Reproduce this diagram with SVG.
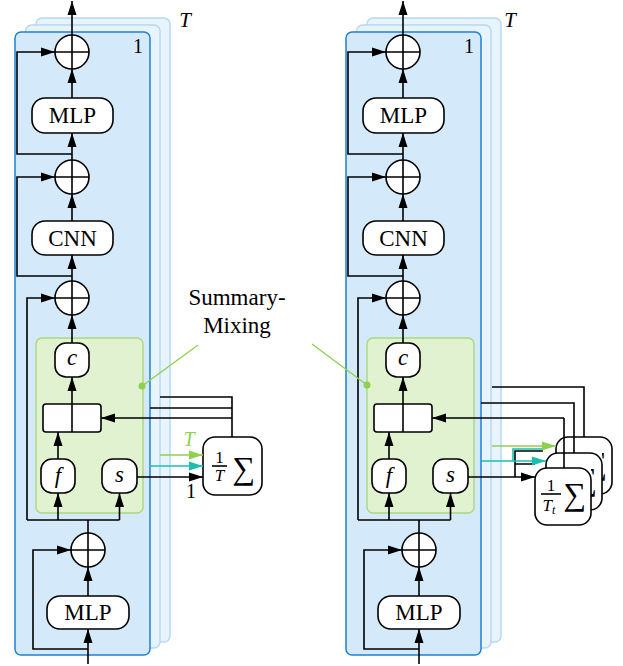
<svg xmlns="http://www.w3.org/2000/svg" width="623" height="666" viewBox="0 0 623 666" font-family="Liberation Serif, Times New Roman, serif">
<style>
.back{fill:#e7f3fd;stroke:#b7d8f1;stroke-width:1.4}
.front{fill:#d4eafb;stroke:#1f80d2;stroke-width:1.5}
.grn{fill:#e0f2cf;stroke:#a9d97c;stroke-width:1.4}
.box{fill:#fff;stroke:#000;stroke-width:1.6}
.ln{fill:none;stroke:#000;stroke-width:1.6}
.ar{marker-end:url(#ah)}
.t{font-family:'Liberation Serif','Times New Roman',serif;font-size:23px;text-anchor:middle;fill:#000}
.i{font-style:italic}
.sm{font-size:17px}
.gl{fill:none;stroke:#8fd14f;stroke-width:1.4}
.tl{fill:none;stroke:#19bfae;stroke-width:1.6}
.gr{fill:none;stroke:#8fd14f;stroke-width:1.6}
</style>
<defs>
<marker id="ah" viewBox="0 0 14 10" refX="14" refY="5" markerWidth="14" markerHeight="10" markerUnits="userSpaceOnUse" orient="auto"><path d="M0,0.5 L14,5 L0,9.5 z" fill="#000"/></marker>
<marker id="ahg" viewBox="0 0 14 10" refX="14" refY="5" markerWidth="14" markerHeight="10" markerUnits="userSpaceOnUse" orient="auto"><path d="M0,0.5 L14,5 L0,9.5 z" fill="#8fd14f"/></marker>
<marker id="aht" viewBox="0 0 14 10" refX="14" refY="5" markerWidth="14" markerHeight="10" markerUnits="userSpaceOnUse" orient="auto"><path d="M0,0.5 L14,5 L0,9.5 z" fill="#19bfae"/></marker>
<clipPath id="clip2"><path d="M591,453H602V510H591Z"/></clipPath>
<clipPath id="clip3"><path d="M602,437H612V494H602Z"/></clipPath>
</defs>

<!-- LEFT PANEL -->
<g id="left-stack">
<rect class="back" x="36" y="18" width="134" height="624" rx="6"/>
<rect class="back" x="25.5" y="25" width="134.5" height="623" rx="6"/>
<rect class="front" x="15" y="32" width="135" height="623" rx="6"/>
<rect class="grn" x="36" y="338" width="107" height="175" rx="6"/>
<text class="t" x="138" y="53" style="font-size:20px">1</text>
<text class="t i" x="185" y="27" style="font-size:21px">T</text>
</g>

<g id="left-nodes">
<g id="l-add1"><circle class="box" cx="72" cy="52" r="17"/><path class="ln" d="M55,52H89M72,35V69"/></g>
<g id="l-mlp1"><rect class="box" x="32" y="98" width="81" height="35" rx="13"/><text class="t" x="72.5" y="123">MLP</text></g>
<g id="l-add2"><circle class="box" cx="72" cy="177" r="17"/><path class="ln" d="M55,177H89M72,160V194"/></g>
<g id="l-cnn"><rect class="box" x="32" y="221" width="81" height="34" rx="13"/><text class="t" x="72.5" y="246">CNN</text></g>
<g id="l-add3"><circle class="box" cx="72" cy="298" r="17"/><path class="ln" d="M55,298H89M72,281V315"/></g>
<g id="l-c"><rect class="box" x="55" y="343" width="34" height="34" rx="11"/><text class="t i" x="72" y="365">c</text></g>
<g id="l-concat"><rect class="box" x="43" y="404" width="58" height="28" rx="3"/><path class="ln" d="M72,404V432"/></g>
<g id="l-f"><rect class="box" x="41" y="459" width="34" height="34" rx="11"/><text class="t i" x="58" y="483">f</text></g>
<g id="l-s"><rect class="box" x="102" y="459" width="35" height="34" rx="11"/><text class="t i" x="119.5" y="482">s</text></g>
<g id="l-add4"><circle class="box" cx="88" cy="550" r="17"/><path class="ln" d="M71,550H105M88,533V567"/></g>
<g id="l-mlp2"><rect class="box" x="47" y="596" width="82" height="33" rx="13"/><text class="t" x="88" y="620">MLP</text></g>
</g>

<g id="l-sum"><rect class="box" x="203" y="437" width="59" height="58" rx="12"/>
<text class="t sm" x="219.5" y="463">1</text><path class="ln" d="M212,466H227"/><text class="t i sm" x="219.5" y="481">T</text>
<text class="t" x="244" y="479" style="font-size:32px">∑</text></g>

<!-- RIGHT PANEL -->
<g id="right-stack" transform="translate(331,0)">
<rect class="back" x="36" y="18" width="134" height="624" rx="6"/>
<rect class="back" x="25.5" y="25" width="134.5" height="623" rx="6"/>
<rect class="front" x="15" y="32" width="135" height="623" rx="6"/>
<rect class="grn" x="36" y="338" width="107" height="175" rx="6"/>
<text class="t" x="138" y="53" style="font-size:20px">1</text>
<text class="t i" x="179" y="27" style="font-size:21px">T</text>
</g>

<g id="right-nodes" transform="translate(331,0)">
<g id="r-add1"><circle class="box" cx="72" cy="52" r="17"/><path class="ln" d="M55,52H89M72,35V69"/></g>
<g id="r-mlp1"><rect class="box" x="32" y="98" width="81" height="35" rx="13"/><text class="t" x="72.5" y="123">MLP</text></g>
<g id="r-add2"><circle class="box" cx="72" cy="177" r="17"/><path class="ln" d="M55,177H89M72,160V194"/></g>
<g id="r-cnn"><rect class="box" x="32" y="221" width="81" height="34" rx="13"/><text class="t" x="72.5" y="246">CNN</text></g>
<g id="r-add3"><circle class="box" cx="72" cy="298" r="17"/><path class="ln" d="M55,298H89M72,281V315"/></g>
<g id="r-c"><rect class="box" x="55" y="343" width="34" height="34" rx="11"/><text class="t i" x="72" y="365">c</text></g>
<g id="r-concat"><rect class="box" x="43" y="404" width="58" height="28" rx="3"/><path class="ln" d="M72,404V432"/></g>
<g id="r-f"><rect class="box" x="41" y="459" width="34" height="34" rx="11"/><text class="t i" x="58" y="483">f</text></g>
<g id="r-s"><rect class="box" x="102" y="459" width="35" height="34" rx="11"/><text class="t i" x="119.5" y="482">s</text></g>
<g id="r-add4"><circle class="box" cx="88" cy="550" r="17"/><path class="ln" d="M71,550H105M88,533V567"/></g>
<g id="r-mlp2"><rect class="box" x="47" y="596" width="82" height="33" rx="13"/><text class="t" x="88" y="620">MLP</text></g>
</g>

<g id="r-sum3"><rect class="box" x="556" y="437" width="56" height="57" rx="12"/><text class="t" x="596" y="474" style="font-size:32px" clip-path="url(#clip3)">∑</text></g>
<g id="r-sum2"><rect class="box" x="546" y="453" width="56" height="57" rx="12"/><text class="t" x="586" y="490" style="font-size:32px" clip-path="url(#clip2)">∑</text></g>
<g id="r-sum1"><rect class="box" x="535" y="468" width="56" height="57" rx="12"/>
<text class="t sm" x="551" y="491">1</text><path class="ln" d="M541,494H561"/><text class="t i sm" x="549" y="511">T<tspan style="font-size:12px" dy="3">t</tspan></text>
<text class="t" x="575" y="505" style="font-size:32px">∑</text></g>

<!-- CONNECTORS -->
<g id="connectors">
<g id="left-connectors">
<path class="ln ar" d="M88,664V629"/>
<path class="ln ar" d="M88,649H33V550H71"/>
<path class="ln ar" d="M88,596V567"/>
<path class="ln" d="M88,533V520M27,520H119.5"/>
<path class="ln ar" d="M27,520V298H55"/>
<path class="ln ar" d="M58,520V493"/>
<path class="ln ar" d="M119.5,520V493"/>
<path class="ln ar" d="M58,459V432"/>
<path class="ln ar" d="M72,404V377"/>
<path class="ln ar" d="M72,343V315"/>
<path class="ln ar" d="M72,281V255"/>
<path class="ln ar" d="M72,276H17V177H55"/>
<path class="ln ar" d="M72,221V194"/>
<path class="ln ar" d="M72,160V133"/>
<path class="ln ar" d="M72,154H17V52H55"/>
<path class="ln ar" d="M72,98V69"/>
<path class="ln ar" d="M72,35V1"/>
<path class="ln" d="M160,397H232V437M150,408H232"/>
<path class="ln ar" d="M232,418H101"/>
<path class="gr" d="M160,455H203" marker-end="url(#ahg)"/>
<path class="tl" d="M150,466H203" marker-end="url(#aht)"/>
<path class="ln ar" d="M137,477H203"/>
</g>
<g id="right-connectors" transform="translate(331,0)">
<path class="ln ar" d="M88,664V629"/>
<path class="ln ar" d="M88,649H33V550H71"/>
<path class="ln ar" d="M88,596V567"/>
<path class="ln" d="M88,533V520M27,520H119.5"/>
<path class="ln ar" d="M27,520V298H55"/>
<path class="ln ar" d="M58,520V493"/>
<path class="ln ar" d="M119.5,520V493"/>
<path class="ln ar" d="M58,459V432"/>
<path class="ln ar" d="M72,404V377"/>
<path class="ln ar" d="M72,343V315"/>
<path class="ln ar" d="M72,281V255"/>
<path class="ln ar" d="M72,276H17V177H55"/>
<path class="ln ar" d="M72,221V194"/>
<path class="ln ar" d="M72,160V133"/>
<path class="ln ar" d="M72,154H17V52H55"/>
<path class="ln ar" d="M72,98V69"/>
<path class="ln ar" d="M72,35V1"/>
</g>
<g id="right-sum-connectors">
<path class="ln" d="M492,387H584V437M481,403H574V453M564,468V418"/>
<path class="ln ar" d="M564,418H432"/>
<path class="ln" d="M515,477V451H543M515,464H535"/>
<path class="tl" d="M513,461V449H543"/>
<path class="gr" d="M492,446H556" marker-end="url(#ahg)"/>
<path class="tl" d="M481,461H546" marker-end="url(#aht)"/>
<path class="ln ar" d="M468,477H535"/>
</g>
</g>

<g id="labels">
<text class="t" x="237" y="305">Summary-</text>
<text class="t" x="237" y="333">Mixing</text>
<path class="gl" d="M142,386L198,345M312,344L367,385"/>
<circle cx="142" cy="386" r="3.5" fill="#8fd14f"/>
<circle cx="367" cy="385" r="3.5" fill="#8fd14f"/>
<text class="t i" x="189" y="446" style="font-size:20px;fill:#8fd14f">T</text>
<text class="t" x="191" y="498" style="font-size:20px">1</text>
</g>
</svg>
